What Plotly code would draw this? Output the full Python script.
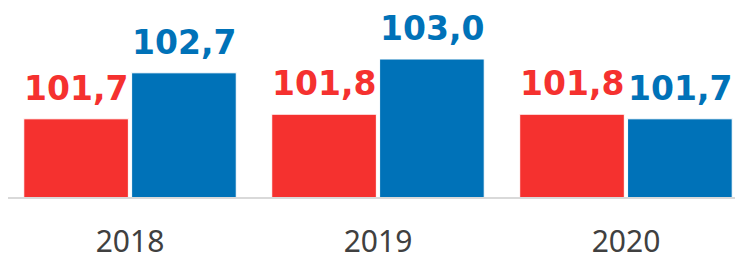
import plotly.graph_objects as go

years = ["2018", "2019", "2020"]
red_vals = [101.7, 101.8, 101.8]
blue_vals = [102.7, 103.0, 101.7]
red_labels = ["101,7", "101,8", "101,8"]
blue_labels = ["102,7", "103,0", "101,7"]

RED = "#F5312F"
BLUE = "#0072B8"

fig = go.Figure()
fig.add_trace(go.Bar(x=years, y=red_vals, marker=dict(color=RED, line=dict(color="white", width=1)), base=0))
fig.add_trace(go.Bar(x=years, y=blue_vals, marker=dict(color=BLUE, line=dict(color="white", width=1)), base=0))

bargap = 0.13
slot = (1 - bargap) / 2
for i in range(len(years)):
    for vals, labels, col, off in ((red_vals, red_labels, RED, -slot / 2), (blue_vals, blue_labels, BLUE, slot / 2)):
        fig.add_annotation(x=i + off, y=vals[i], text=f"<b>{labels[i]}</b>", showarrow=False,
                           yanchor="bottom", yshift=9, font=dict(family="DejaVu Sans", size=33, color=col))

# the page body has an 8px default margin; the figure is sized to fit the visible window
fig.update_layout(
    width=735, height=246,
    margin=dict(l=0, r=0, t=0, b=57, autoexpand=False),
    paper_bgcolor="white", plot_bgcolor="white",
    barmode="group", bargap=bargap, bargroupgap=0.03,
    showlegend=False,
    xaxis=dict(type="category", range=[-0.492, 2.472], showline=True, linecolor="#D9D9D9", linewidth=2,
               automargin=False, ticks="", tickfont=dict(family="Noto Sans", size=30, color="#404040"),
               ticklabelstandoff=17),
    yaxis=dict(range=[100, 104.109], visible=False, showgrid=False, zeroline=False, automargin=False),
)
fig.write_html("out.html")
